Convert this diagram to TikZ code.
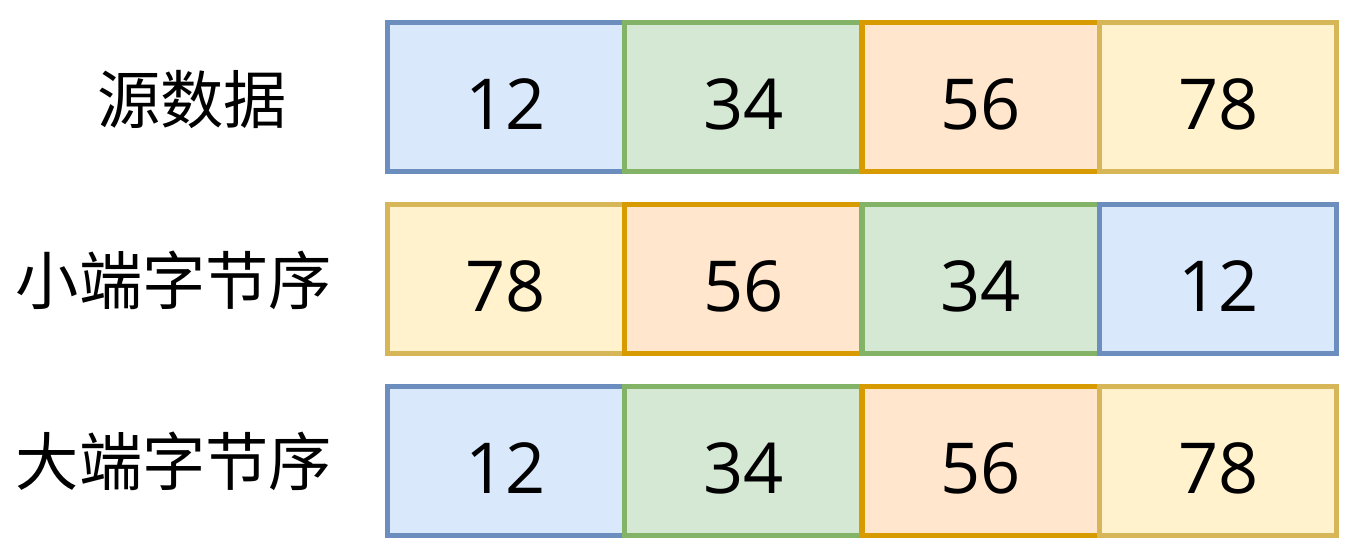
\documentclass[tikz,border=0pt]{standalone}
\usepackage{fontspec}
\setmainfont{Open Sans}
\newfontfamily\cjk{Noto Sans CJK SC}
\definecolor{blueF}{HTML}{DAE8FC}
\definecolor{blueL}{HTML}{6C8EBF}
\definecolor{greenF}{HTML}{D5E8D4}
\definecolor{greenL}{HTML}{82B366}
\definecolor{orangeF}{HTML}{FFE6CC}
\definecolor{orangeL}{HTML}{D79B00}
\definecolor{yellowF}{HTML}{FFF2CC}
\definecolor{yellowL}{HTML}{D6B656}
\tikzset{
  cell/.style={draw, line width=0.1cm, minimum width=4.75cm, minimum height=3cm,
    inner sep=0pt, text height=1.3cm, text depth=0pt, font=\fontsize{40}{40}\selectfont},
  lbl/.style={font=\cjk\fontsize{36}{36}\selectfont}
}
\begin{document}
\begin{tikzpicture}[x=0.02cm,y=-0.02cm]
  \useasboundingbox (0,0) rectangle (1350,552);
  \fill[white] (0,0) rectangle (1350,552); %背景

  \node[lbl] (src) at (192,100) {源数据}; %源数据
  \node[lbl] (little) at (174,280) {小端字节序}; %小端
  \node[lbl] (big) at (174,461) {大端字节序}; %大端

  \foreach \col/\t [count=\i] in {blue/12,green/34,orange/56,yellow/78}
    \node[cell, fill=\col F, draw=\col L] (s\i) at ({268.25+237.5*\i},97) {\t}; %源数据
  \foreach \col/\t [count=\i] in {yellow/78,orange/56,green/34,blue/12}
    \node[cell, fill=\col F, draw=\col L] (l\i) at ({268.25+237.5*\i},279) {\t}; %小端
  \foreach \col/\t [count=\i] in {blue/12,green/34,orange/56,yellow/78}
    \node[cell, fill=\col F, draw=\col L] (b\i) at ({268.25+237.5*\i},461) {\t}; %大端
\end{tikzpicture}
\end{document}
